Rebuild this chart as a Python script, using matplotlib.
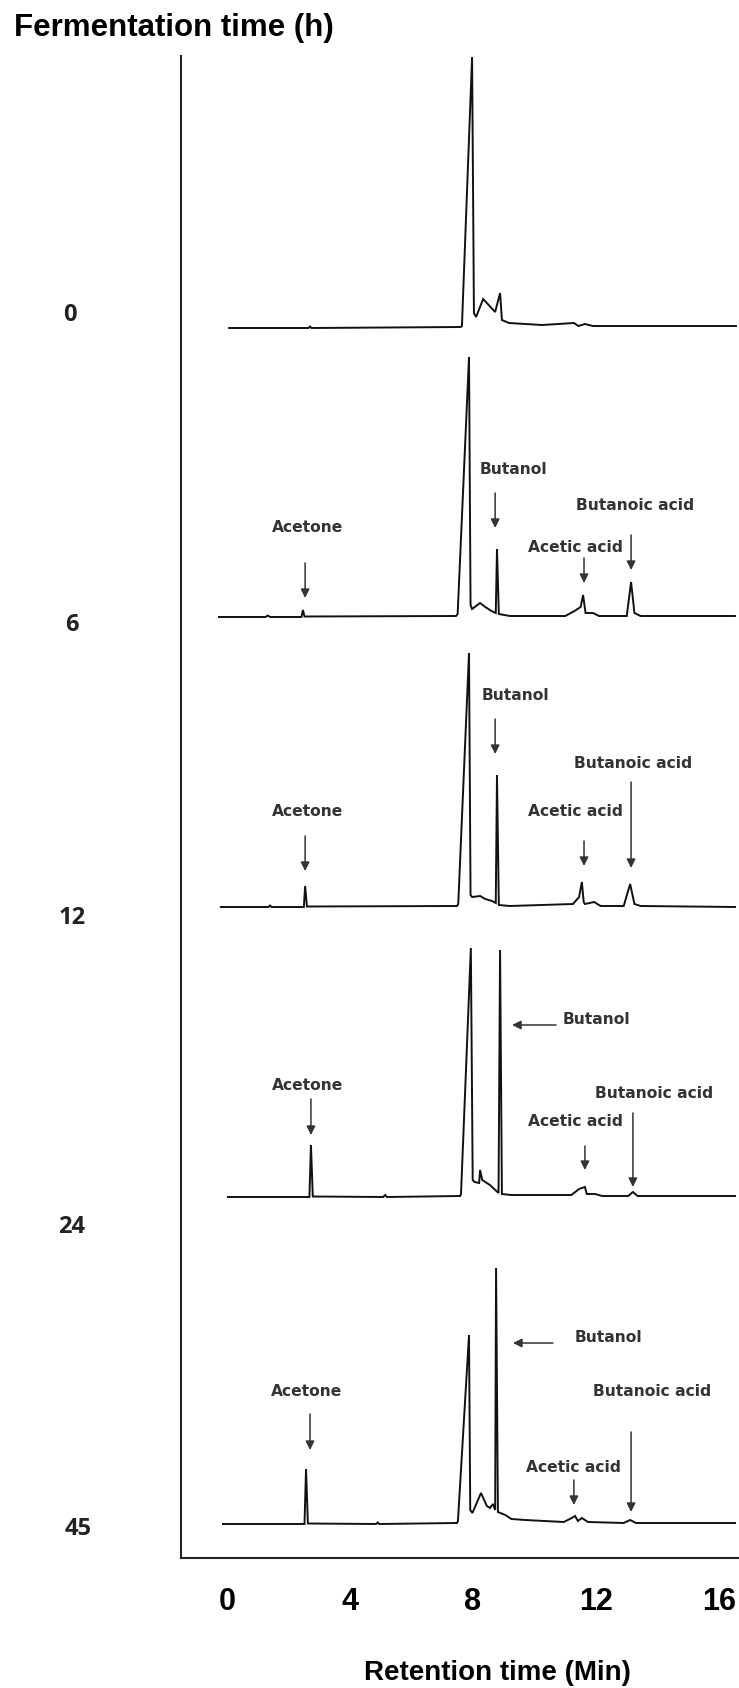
import matplotlib
matplotlib.use("Agg")
import matplotlib.pyplot as plt

# fermentation times (h) of the five stacked chromatograms
hours = ['0', '6', '12', '24', '45']

# chromatogram traces: retention time (min) and detector signal (a.u., above own baseline)
t_0h = [0.07, 2.65, 2.70, 2.75, 7.60, 7.64, 7.97, 8.03, 8.10, 8.33, 8.72, 8.88, 8.94, 9.17,
        10.24, 11.28, 11.43, 11.64, 11.90, 13.16, 16.55]
s_0h = [0, 0, 1.5, 0, 1, 2, 271, 15, 11, 29, 16, 35, 8, 5,
        3, 5, 2, 4, 2, 2, 2]

t_6h = [-0.26, 1.25, 1.33, 1.40, 2.42, 2.47, 2.52, 7.45, 7.50, 7.87, 7.92, 7.97, 8.23, 8.40,
        8.60, 8.74, 8.78, 8.84, 9.20, 11.00, 11.30, 11.50, 11.58, 11.66, 11.90, 12.10, 13.00,
        13.14, 13.25, 13.45, 16.52]
s_6h = [0, 0, 1.5, 0, 0, 7, 0.5, 1, 3, 260, 12, 8, 14, 10,
        6, 4, 68, 3, 1, 1, 6, 10, 22, 4, 4, 1, 1,
        35, 4, 1, 1]

t_12h = [-0.20, 1.35, 1.40, 1.45, 2.50, 2.54, 2.60, 7.48, 7.52, 7.87, 7.92, 7.97, 8.23, 8.40,
         8.62, 8.74, 8.78, 8.84, 9.20, 11.25, 11.45, 11.54, 11.60, 11.64, 11.94, 12.15, 12.90,
         13.11, 13.25, 13.45, 16.52]
s_12h = [0, 0, 1.5, 0, 0, 21, 0.5, 1, 3, 254, 12, 10, 11, 8,
         6, 4, 132, 2, 1, 3, 10, 25, 5, 3, 5, 1, 1,
         23, 3, 1, 0]

t_24h = [0.03, 2.68, 2.73, 2.79, 5.08, 5.14, 5.20, 7.58, 7.61, 7.93, 7.99, 8.05, 8.20, 8.23,
         8.30, 8.55, 8.83, 8.88, 8.94, 9.23, 11.20, 11.45, 11.64, 11.70, 11.97, 12.20, 13.05,
         13.20, 13.35, 16.52]
s_24h = [0, 0, 52, 0.5, 0, 2, 0, 1, 3, 249, 17, 15, 14, 27,
         17, 12, 4, 247, 3, 2, 2, 8, 10, 3, 3, 1, 1,
         5, 1, 1]

t_45h = [-0.13, 2.52, 2.57, 2.63, 4.85, 4.90, 4.95, 7.48, 7.51, 7.87, 7.91, 7.98, 8.26, 8.45,
         8.55, 8.65, 8.72, 8.75, 8.81, 9.05, 9.25, 9.70, 10.95, 11.15, 11.32, 11.41, 11.54,
         11.74, 12.90, 13.11, 13.30, 16.52]
s_45h = [0, 0, 55, 0.5, 0, 1.5, 0, 1, 3, 189, 14, 11, 31, 18,
         16, 20, 14, 256, 12, 9, 5, 4, 2, 5, 8, 3, 6,
         2, 1, 4, 1, 1]

traces = [(t_0h, s_0h), (t_6h, s_6h), (t_12h, s_12h), (t_24h, s_24h), (t_45h, s_45h)]

# vertical stacking of the traces (a.u.)
offsets = [1230, 941, 651, 361, 34]

# peak labels: text, text position, arrow tail, arrow tip (data coords, stacked)
peak_notes = [
    ('Acetone', (2.63, 1030), (2.54, 995), (2.54, 960)),
    ('Butanol', (9.30, 1089), (8.72, 1065), (8.72, 1030)),
    ('Butanoic acid', (13.27, 1052), (13.14, 1023), (13.14, 988)),
    ('Acetic acid', (11.32, 1011), (11.61, 1000), (11.61, 975)),
    ('Butanol', (9.37, 862), (8.72, 839), (8.72, 804)),
    ('Butanoic acid', (13.20, 795), (13.14, 776), (13.14, 690)),
    ('Acetone', (2.63, 747), (2.54, 722), (2.54, 687)),
    ('Acetic acid', (11.32, 747), (11.61, 717), (11.61, 692)),
    ('Butanol', (12.0, 538), (10.70, 533), (9.27, 533)),
    ('Acetone', (2.63, 473), (2.73, 459), (2.73, 423)),
    ('Butanoic acid', (13.89, 464), (13.20, 445), (13.20, 371)),
    ('Acetic acid', (11.32, 436), (11.64, 412), (11.64, 388)),
    ('Butanol', (12.39, 220), (10.60, 215), (9.30, 215)),
    ('Acetone', (2.60, 166), (2.70, 144), (2.70, 108)),
    ('Butanoic acid', (13.82, 166), (13.14, 126), (13.14, 46)),
    ('Acetic acid', (11.25, 91), (11.28, 78), (11.28, 53)),
]

W, H = 739, 1688
arial = ['Liberation Sans', 'DejaVu Sans']

fig = plt.figure(figsize=(W / 100, H / 100), dpi=100)
ax = fig.add_axes([181 / W, (H - 1558) / H, (W - 181) / W, (1558 - 56) / H])

for (t, s), off in zip(traces, offsets):
    ax.plot(t, [v + off for v in s], color='#111111', lw=1.4, solid_joinstyle='miter')

for label, txy, tail, tip in peak_notes:
    ax.text(txy[0], txy[1], label, ha='center', va='center', fontsize=11.2,
            fontweight='bold', color='#333333', family='DejaVu Sans')
    ax.annotate('', xy=tip, xytext=tail,
                arrowprops=dict(arrowstyle='-|>', color='#333333', lw=1.1,
                                mutation_scale=13, shrinkA=0, shrinkB=0))

ax.set_xlim(-1.496, 16.65)
ax.set_ylim(0, 1502)
ax.set_xticks([0, 4, 8, 12, 16])
ax.set_xticklabels(['0', '4', '8', '12', '16'], fontsize=22, fontweight='bold',
                   family=arial)
ax.tick_params(axis='x', length=0, pad=21)
ax.set_yticks([])
for side in ['top', 'right']:
    ax.spines[side].set_visible(False)
for side in ['left', 'bottom']:
    ax.spines[side].set_linewidth(1.5)
    ax.spines[side].set_color('#222222')

# row labels: fermentation time of each trace
row_pos = [(70, 315), (72, 625), (72, 918), (72, 1227), (78, 1529)]
for h, (px, py) in zip(hours, row_pos):
    fig.text(px / W, 1 - py / H, h, ha='center', va='center', fontsize=17,
             fontweight='bold', color='#222222', family='Open Sans')

fig.text(14 / W, 1 - 36 / H, 'Fermentation time (h)', ha='left', va='baseline',
         fontsize=22.5, fontweight='bold', family=arial)
fig.text(497 / W, 1 - 1673 / H, 'Retention time (Min)', ha='center', va='center',
         fontsize=20, fontweight='bold', family=arial)

fig.savefig('out.png', dpi=100)
